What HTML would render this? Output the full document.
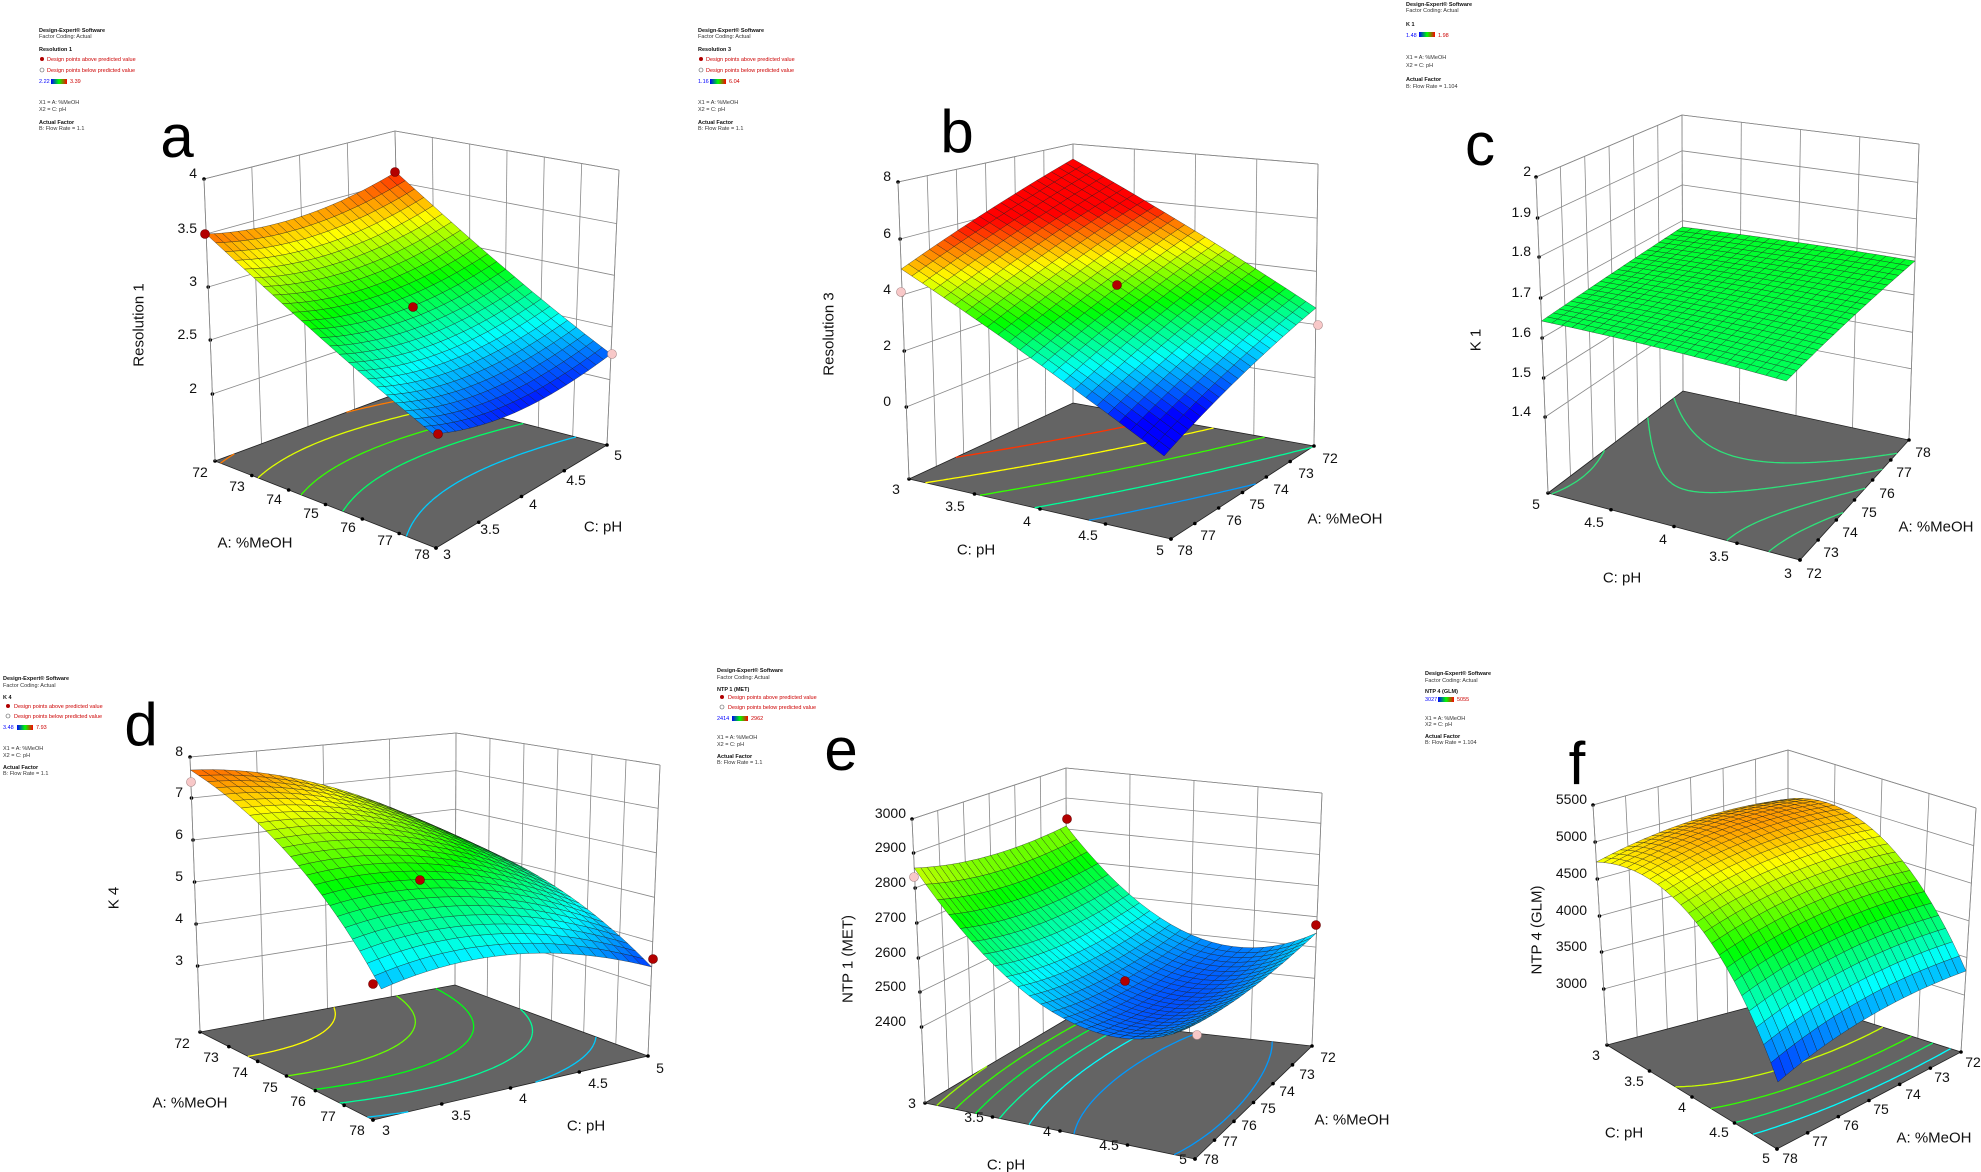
<!DOCTYPE html>
<html><head><meta charset="utf-8"><style>
html,body{margin:0;padding:0;background:#fff}
svg{display:block;font-family:"Liberation Sans",Arial,sans-serif}
.t{font-size:14px;fill:#111}
.big{font-size:60px;fill:#000}
.ax{font-size:15px;fill:#111}
.lg{font-size:5.5px;fill:#333}
.lb{font-size:5.5px;fill:#111;font-weight:bold}
.lr{font-size:5.5px;fill:#c00}
</style></head><body>
<svg id="s" width="1981" height="1172" viewBox="0 0 1981 1172" xmlns="http://www.w3.org/2000/svg">
<defs><linearGradient id="cb"><stop offset="0" stop-color="#0000ff"/><stop offset=".5" stop-color="#00ff00"/><stop offset="1" stop-color="#ff0000"/></linearGradient></defs>
<rect width="1981" height="1172" fill="#fff"/>
<g id="gfx"></g>
<g id="pts"></g>

<g>
<text class="lb" x="39" y="32">Design-Expert® Software</text><text class="lg" x="39" y="38">Factor Coding: Actual</text>
<text class="lb" x="39" y="51">Resolution 1</text>
<circle cx="42" cy="59" r="2" fill="#b00000"/><text class="lr" x="47" y="61">Design points above predicted value</text>
<circle cx="42" cy="70" r="2" fill="#fff" stroke="#555" stroke-width=".6"/><text class="lr" x="47" y="72">Design points below predicted value</text>
<text class="lg" x="39" y="83" style="fill:#00f">2.22</text><rect x="51" y="79" width="16" height="5" fill="url(#cb)"/><text class="lr" x="70" y="83">3.39</text>
<text class="lg" x="39" y="104">X1 = A: %MeOH</text><text class="lg" x="39" y="111">X2 = C: pH</text>
<text class="lb" x="39" y="124">Actual Factor</text><text class="lg" x="39" y="130">B: Flow Rate = 1.1</text>
</g>
<g>
<text class="lb" x="698" y="32">Design-Expert® Software</text><text class="lg" x="698" y="38">Factor Coding: Actual</text>
<text class="lb" x="698" y="51">Resolution 3</text>
<circle cx="701" cy="59" r="2" fill="#b00000"/><text class="lr" x="706" y="61">Design points above predicted value</text>
<circle cx="701" cy="70" r="2" fill="#fff" stroke="#555" stroke-width=".6"/><text class="lr" x="706" y="72">Design points below predicted value</text>
<text class="lg" x="698" y="83" style="fill:#00f">1.16</text><rect x="710" y="79" width="16" height="5" fill="url(#cb)"/><text class="lr" x="729" y="83">6.04</text>
<text class="lg" x="698" y="104">X1 = A: %MeOH</text><text class="lg" x="698" y="111">X2 = C: pH</text>
<text class="lb" x="698" y="124">Actual Factor</text><text class="lg" x="698" y="130">B: Flow Rate = 1.1</text>
</g>
<g>
<text class="lb" x="1406" y="6">Design-Expert® Software</text><text class="lg" x="1406" y="12">Factor Coding: Actual</text>
<text class="lb" x="1406" y="26">K 1</text>
<text class="lg" x="1406" y="37" style="fill:#00f">1.48</text><rect x="1419" y="32" width="16" height="5" fill="url(#cb)"/><text class="lr" x="1438" y="37">1.98</text>
<text class="lg" x="1406" y="59">X1 = A: %MeOH</text><text class="lg" x="1406" y="67">X2 = C: pH</text>
<text class="lb" x="1406" y="81">Actual Factor</text><text class="lg" x="1406" y="88">B: Flow Rate = 1.104</text>
</g>
<g>
<text class="lb" x="3" y="680">Design-Expert® Software</text><text class="lg" x="3" y="687">Factor Coding: Actual</text>
<text class="lb" x="3" y="699">K 4</text>
<circle cx="8" cy="706" r="2" fill="#b00000"/><text class="lr" x="14" y="708">Design points above predicted value</text>
<circle cx="8" cy="716" r="2" fill="#fff" stroke="#555" stroke-width=".6"/><text class="lr" x="14" y="718">Design points below predicted value</text>
<text class="lg" x="3" y="729" style="fill:#00f">3.48</text><rect x="17" y="725" width="16" height="5" fill="url(#cb)"/><text class="lr" x="36" y="729">7.93</text>
<text class="lg" x="3" y="750">X1 = A: %MeOH</text><text class="lg" x="3" y="757">X2 = C: pH</text>
<text class="lb" x="3" y="769">Actual Factor</text><text class="lg" x="3" y="775">B: Flow Rate = 1.1</text>
</g>
<g>
<text class="lb" x="717" y="672">Design-Expert® Software</text><text class="lg" x="717" y="679">Factor Coding: Actual</text>
<text class="lb" x="717" y="691">NTP 1 (MET)</text>
<circle cx="722" cy="697" r="2" fill="#b00000"/><text class="lr" x="728" y="699">Design points above predicted value</text>
<circle cx="722" cy="707" r="2" fill="#fff" stroke="#555" stroke-width=".6"/><text class="lr" x="728" y="709">Design points below predicted value</text>
<text class="lg" x="717" y="720" style="fill:#00f">2414</text><rect x="732" y="716" width="16" height="5" fill="url(#cb)"/><text class="lr" x="751" y="720">2962</text>
<text class="lg" x="717" y="739">X1 = A: %MeOH</text><text class="lg" x="717" y="746">X2 = C: pH</text>
<text class="lb" x="717" y="758">Actual Factor</text><text class="lg" x="717" y="764">B: Flow Rate = 1.1</text>
</g>
<g>
<text class="lb" x="1425" y="675">Design-Expert® Software</text><text class="lg" x="1425" y="682">Factor Coding: Actual</text>
<text class="lb" x="1425" y="693">NTP 4 (GLM)</text>
<text class="lg" x="1425" y="701" style="fill:#00f">3027</text><rect x="1438" y="697" width="16" height="5" fill="url(#cb)"/><text class="lr" x="1457" y="701">5055</text>
<text class="lg" x="1425" y="720">X1 = A: %MeOH</text><text class="lg" x="1425" y="726">X2 = C: pH</text>
<text class="lb" x="1425" y="738">Actual Factor</text><text class="lg" x="1425" y="744">B: Flow Rate = 1.104</text>
</g>

<text class="big" x="177" y="136" text-anchor="middle" dy=".35em">a</text>
<text class="big" x="957" y="131" text-anchor="middle" dy=".35em">b</text>
<text class="big" x="1480" y="144" text-anchor="middle" dy=".35em">c</text>
<text class="big" x="141" y="724" text-anchor="middle" dy=".35em">d</text>
<text class="big" x="841" y="749" text-anchor="middle" dy=".35em">e</text>
<text class="big" x="1577" y="763" text-anchor="middle" dy=".35em">f</text>

<g class="t" text-anchor="end">
<text x="197" y="178">4</text><text x="197" y="233">3.5</text><text x="197" y="286">3</text><text x="197" y="339">2.5</text><text x="197" y="393">2</text>
<text x="891" y="181">8</text><text x="891" y="238">6</text><text x="891" y="294">4</text><text x="891" y="350">2</text><text x="891" y="406">0</text>
<text x="1531" y="176">2</text><text x="1531" y="217">1.9</text><text x="1531" y="256">1.8</text><text x="1531" y="297">1.7</text><text x="1531" y="337">1.6</text><text x="1531" y="377">1.5</text><text x="1531" y="416">1.4</text>
<text x="183" y="756">8</text><text x="183" y="797">7</text><text x="183" y="839">6</text><text x="183" y="881">5</text><text x="183" y="923">4</text><text x="183" y="965">3</text>
<text x="906" y="818">3000</text><text x="906" y="852">2900</text><text x="906" y="887">2800</text><text x="906" y="922">2700</text><text x="906" y="957">2600</text><text x="906" y="991">2500</text><text x="906" y="1026">2400</text>
<text x="1587" y="804">5500</text><text x="1587" y="841">5000</text><text x="1587" y="878">4500</text><text x="1587" y="915">4000</text><text x="1587" y="951">3500</text><text x="1587" y="988">3000</text>
</g>

<g class="t" text-anchor="middle" dominant-baseline="central">
<text x="200" y="472">72</text><text x="237" y="486">73</text><text x="274" y="499">74</text><text x="311" y="513">75</text><text x="348" y="527">76</text><text x="385" y="540">77</text><text x="422" y="554">78</text>
<text x="447" y="554">3</text><text x="490" y="529">3.5</text><text x="533" y="504">4</text><text x="576" y="480">4.5</text><text x="618" y="455">5</text>
<text x="896" y="489">3</text><text x="955" y="506">3.5</text><text x="1027" y="521">4</text><text x="1088" y="535">4.5</text><text x="1160" y="550">5</text>
<text x="1185" y="550">78</text><text x="1208" y="535">77</text><text x="1234" y="520">76</text><text x="1257" y="504">75</text><text x="1281" y="489">74</text><text x="1306" y="473">73</text><text x="1330" y="458">72</text>
<text x="1536" y="504">5</text><text x="1594" y="522">4.5</text><text x="1663" y="539">4</text><text x="1719" y="556">3.5</text><text x="1788" y="573">3</text>
<text x="1814" y="573">72</text><text x="1831" y="552">73</text><text x="1850" y="532">74</text><text x="1869" y="512">75</text><text x="1887" y="493">76</text><text x="1904" y="472">77</text><text x="1923" y="452">78</text>
<text x="182" y="1043">72</text><text x="211" y="1057">73</text><text x="240" y="1072">74</text><text x="270" y="1087">75</text><text x="298" y="1101">76</text><text x="328" y="1116">77</text><text x="357" y="1130">78</text>
<text x="386" y="1130">3</text><text x="461" y="1115">3.5</text><text x="523" y="1098">4</text><text x="598" y="1083">4.5</text><text x="660" y="1068">5</text>
<text x="912" y="1103">3</text><text x="974" y="1117">3.5</text><text x="1047" y="1131">4</text><text x="1109" y="1145">4.5</text><text x="1183" y="1159">5</text>
<text x="1211" y="1159">78</text><text x="1230" y="1141">77</text><text x="1249" y="1125">76</text><text x="1268" y="1108">75</text><text x="1287" y="1091">74</text><text x="1307" y="1074">73</text><text x="1328" y="1057">72</text>
<text x="1596" y="1055">3</text><text x="1634" y="1081">3.5</text><text x="1682" y="1107">4</text><text x="1719" y="1132">4.5</text><text x="1766" y="1158">5</text>
<text x="1790" y="1158">78</text><text x="1820" y="1141">77</text><text x="1851" y="1125">76</text><text x="1881" y="1109">75</text><text x="1913" y="1094">74</text><text x="1942" y="1077">73</text><text x="1973" y="1062">72</text>
</g>

<g class="ax" text-anchor="middle" dominant-baseline="central">
<text x="255" y="543">A: %MeOH</text><text x="603" y="527">C: pH</text>
<text transform="translate(139,325) rotate(-90)">Resolution 1</text>
<text x="976" y="550">C: pH</text><text x="1345" y="519">A: %MeOH</text>
<text transform="translate(829,334) rotate(-90)">Resolution 3</text>
<text x="1622" y="578">C: pH</text><text x="1936" y="527">A: %MeOH</text>
<text transform="translate(1476,340) rotate(-90)">K 1</text>
<text x="190" y="1103">A: %MeOH</text><text x="586" y="1126">C: pH</text>
<text transform="translate(114,898) rotate(-90)">K 4</text>
<text x="1006" y="1165">C: pH</text><text x="1352" y="1120">A: %MeOH</text>
<text transform="translate(848,959) rotate(-90)">NTP 1 (MET)</text>
<text x="1624" y="1133">C: pH</text><text x="1934" y="1138">A: %MeOH</text>
<text transform="translate(1537,930) rotate(-90)">NTP 4 (GLM)</text>
</g>
</svg>
<script>
(function(){
const NS="http://www.w3.org/2000/svg";
const gfx=document.getElementById('gfx');
function el(tag,attrs,parent){const e=document.createElementNS(NS,tag);for(const k in attrs)e.setAttribute(k,attrs[k]);(parent||gfx).appendChild(e);return e;}
function jet(t){t=Math.max(0,Math.min(1,t));let r,g,b;
 if(t<0.25){r=0;g=t/0.25*255;b=255;}
 else if(t<0.5){r=0;g=255;b=255*(1-(t-0.25)/0.25);}
 else if(t<0.75){r=255*(t-0.5)/0.25;g=255;b=0;}
 else{r=255;g=255*(1-(t-0.75)/0.25);b=0;}
 return 'rgb('+(r|0)+','+(g|0)+','+(b|0)+')';}
function draw(p){
 const Ft=[p.Lt[0]+p.Rt[0]-p.Bt[0],p.Lt[1]+p.Rt[1]-p.Bt[1]];
 const bil=(A,B,C,D,u,v)=>[(1-u)*(1-v)*A[0]+u*(1-v)*B[0]+u*v*C[0]+(1-u)*v*D[0],(1-u)*(1-v)*A[1]+u*(1-v)*B[1]+u*v*C[1]+(1-u)*v*D[1]];
 const P=(u,v,w)=>{const f=bil(p.L,p.F,p.R,p.B,u,v),t=bil(p.Lt,Ft,p.Rt,p.Bt,u,v);return [f[0]+(t[0]-f[0])*w,f[1]+(t[1]-f[1])*w];};
 const wc=(fl,tp,sy)=>(fl[1]-sy)/(fl[1]-tp[1]);
 const wL=wc(p.L,p.Lt,p.sL),wF=wc(p.F,Ft,p.sF),wR=wc(p.R,p.Rt,p.sR),wB=wc(p.B,p.Bt,p.sB);
 const W=(u,v)=>(1-u)*(1-v)*wL+u*(1-v)*wF+u*v*wR+(1-u)*v*wB+p.ku*4*u*(1-u)+p.kv*4*v*(1-v);
 const Wc=p.cku!==undefined?((u,v)=>W(u,v)+p.cku*4*u*(1-u)+p.ckv*4*v*(1-v)):W;
 const line=(a,b,st,sw)=>el('line',{x1:a[0].toFixed(1),y1:a[1].toFixed(1),x2:b[0].toFixed(1),y2:b[1].toFixed(1),stroke:st||'#888',"stroke-width":sw||0.8});
 const zw=p.zt.map(y=>(p.L[1]-y)/(p.L[1]-p.Lt[1]));
 for(let i=0;i<=p.nLB;i++){const v=i/p.nLB;line(P(0,v,0),P(0,v,1));}
 for(let i=0;i<=p.nLF;i++){const u=i/p.nLF;line(P(u,1,0),P(u,1,1));}
 zw.forEach(w=>{line(P(0,0,w),P(0,1,w));line(P(0,1,w),P(1,1,w));});
 line(P(0,0,1),P(0,1,1));line(P(0,1,1),P(1,1,1));
 line(P(1,1,0),P(1,1,1));
 const fp=[P(0,0,0),P(1,0,0),P(1,1,0),P(0,1,0)];
 el('polygon',{points:fp.map(q=>q[0].toFixed(1)+','+q[1].toFixed(1)).join(' '),fill:'#646464',stroke:'#222',"stroke-width":0.8});
 let wmin=1e9,wmax=-1e9;for(let i=0;i<=30;i++)for(let j=0;j<=30;j++){const w=W(i/30,j/30);if(w<wmin)wmin=w;if(w>wmax)wmax=w;}
 const tOf=w=>p.t0+(w-wmin)/(wmax-wmin)*(p.t1-p.t0);
 const N=50;
 p.ct.forEach(t=>{
  const lv=wmin+(t-p.t0)/(p.t1-p.t0)*(wmax-wmin);
  let d='';
  for(let i=0;i<N;i++)for(let j=0;j<N;j++){
   const u0=i/N,u1=(i+1)/N,v0=j/N,v1=(j+1)/N;
   const c=[[u0,v0],[u1,v0],[u1,v1],[u0,v1]];const vals=c.map(q=>Wc(q[0],q[1])-lv);
   const pts=[];
   for(let k=0;k<4;k++){const a=vals[k],b=vals[(k+1)%4];if((a<0)!==(b<0)){const s=a/(a-b);const A=c[k],B=c[(k+1)%4];pts.push([A[0]+(B[0]-A[0])*s,A[1]+(B[1]-A[1])*s]);}}
   for(let k=0;k+1<pts.length;k+=2){const a=P(pts[k][0],pts[k][1],0),b=P(pts[k+1][0],pts[k+1][1],0);d+='M'+a[0].toFixed(1)+' '+a[1].toFixed(1)+'L'+b[0].toFixed(1)+' '+b[1].toFixed(1);}
  }
  if(d)el('path',{d:d,stroke:p.cc||jet(t),"stroke-width":1.3,fill:'none'});
 });
 for(let i=0;i<=p.nLF;i++){const q=P(i/p.nLF,0,0);el('circle',{cx:q[0],cy:q[1],r:1.8,fill:'#000'});}
 for(let i=0;i<=p.nLB;i++){const q=P(1,i/p.nLB,0);el('circle',{cx:q[0],cy:q[1],r:1.8,fill:'#000'});}
 zw.forEach(w=>{const q=P(0,0,w);el('circle',{cx:q[0],cy:q[1],r:1.8,fill:'#000'});});
 line(P(0,0,0),P(0,0,1),'#888',0.8);
 const M=24,cells=[];
 for(let i=0;i<M;i++)for(let j=0;j<M;j++)cells.push([i,j]);
 cells.sort((a,b)=>(a[0]-a[1])-(b[0]-b[1]));
 const sg=el('g',{});
 cells.forEach(([i,j])=>{
  const u0=i/M,u1=(i+1)/M,v0=j/M,v1=(j+1)/M;
  const q=[[u0,v0],[u1,v0],[u1,v1],[u0,v1]].map(a=>P(a[0],a[1],W(a[0],a[1])));
  const wa=W((u0+u1)/2,(v0+v1)/2);
  el('polygon',{points:q.map(a=>a[0].toFixed(1)+','+a[1].toFixed(1)).join(' '),fill:jet(tOf(wa)),stroke:'#1a1a1a',"stroke-width":0.45,"stroke-opacity":0.75},sg);
 });
}
const panels=[
 {L:[215,461],F:[436,548],R:[607,445],B:[401,392],Lt:[204,179],Bt:[395,131],Rt:[619,170],sL:234,sF:434,sR:354,sB:172,ku:-0.03,kv:-0.05,nLF:6,nLB:4,zt:[179,234,287,340,394],t0:0.02,t1:0.97,ct:[0.2,0.4,0.55,0.72,0.88]},
 {L:[909,479],F:[1171,539],R:[1314,446],B:[1073,403],Lt:[898,182],Bt:[1073,144],Rt:[1318,164],sL:269,sF:456,sR:308,sB:159,ku:0,kv:0,nLF:4,nLB:6,zt:[182,239,295,351,407],t0:-0.15,t1:1.3,ct:[0.15,0.35,0.55,0.75,0.95]},
 {L:[1548,493],F:[1800,560],R:[1909,440],B:[1683,391],Lt:[1536,177],Bt:[1682,115],Rt:[1919,144],sL:321,sF:381,sR:261,sB:227,ku:0.005,kv:0,cku:0.03,ckv:-0.02,nLF:4,nLB:6,zt:[177,218,257,298,338,378,417],t0:0.41,t1:0.46,ct:[0.42,0.43,0.44,0.45],cc:'#2ee27a'},
 {L:[200,1032],F:[373,1120],R:[648,1056],B:[455,985],Lt:[190,757],Bt:[456,733],Rt:[660,765],sL:770,sF:989,sR:967,sB:838,ku:0.05,kv:0.08,nLF:6,nLB:4,zt:[757,798,840,882,924,966],t0:0.05,t1:0.9,ct:[0.75,0.6,0.48,0.35,0.2]},
 {L:[925,1103],F:[1195,1159],R:[1312,1046],B:[1067,1019],Lt:[912,819],Bt:[1066,768],Rt:[1322,793],sL:868,sF:1030,sR:933,sB:826,ku:-0.22,kv:-0.03,nLF:4,nLB:6,zt:[819,853,888,923,958,992,1027],t0:0.08,t1:0.72,ct:[0.65,0.55,0.45,0.35,0.25,0.15]},
 {L:[1607,1045],F:[1777,1149],R:[1961,1052],B:[1788,997],Lt:[1593,805],Bt:[1788,750],Rt:[1976,808],sL:862,sF:1082,sR:971,sB:799,ku:0.2,kv:0.04,nLF:4,nLB:6,zt:[805,842,879,916,952,989],t0:0.02,t1:0.85,ct:[0.7,0.55,0.4,0.25]}
];
panels.forEach(draw);
const pg=document.getElementById('pts');
const red=[[205,234],[395,172],[438,434],[413,307],[1117,285],[373,984],[420,880],[653,959],[1067,819],[1316,925],[1125,981]];
const pink=[[612,354],[901,292],[1318,325],[191,782],[914,877],[1197,1035]];
red.forEach(q=>el('circle',{cx:q[0],cy:q[1],r:4.5,fill:'#b30000',stroke:'#600','stroke-width':0.6},pg));
pink.forEach(q=>el('circle',{cx:q[0],cy:q[1],r:4.5,fill:'#f8c8c8',stroke:'#a88','stroke-width':0.6},pg));
})();
</script>
</body></html>
